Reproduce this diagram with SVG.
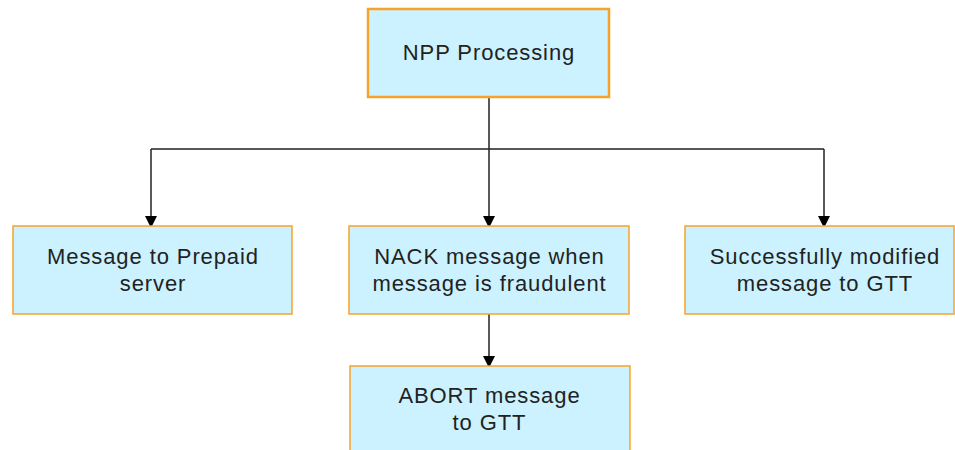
<svg xmlns="http://www.w3.org/2000/svg" width="955" height="450" viewBox="0 0 955 450">
<defs>
<marker id="arr" markerWidth="10" markerHeight="12" refX="9" refY="6" orient="auto" markerUnits="userSpaceOnUse">
<path d="M0,0 L12,6 L0,12 Z" fill="#000"/>
</marker>
<style>
.box{fill:#CCF2FF;stroke:#F7A32A;stroke-width:1.5}
.top{stroke-width:2.5}
.t{font-family:"Liberation Sans",Arial,sans-serif;font-size:22px;letter-spacing:0.9px;fill:#222;text-anchor:middle}
.c{fill:none;stroke:#222;stroke-width:1.5}
</style>
</defs>
<rect width="955" height="450" fill="#fff"/>
<g id="connectors">
<path class="c" d="M489,97 V149 M151,149 H824"/>
<path class="c" d="M151,149 V225" marker-end="url(#arr)"/>
<path class="c" d="M489,149 V225" marker-end="url(#arr)"/>
<path class="c" d="M824,149 V225" marker-end="url(#arr)"/>
<path class="c" d="M489,314 V365" marker-end="url(#arr)"/>
</g>
<g id="npp">
<rect class="box top" x="368" y="9" width="241" height="88"/>
<text class="t" x="489" y="60">NPP Processing</text>
</g>
<g id="prepaid">
<rect class="box" x="13" y="226" width="279" height="88"/>
<text class="t" x="153" y="264">Message to Prepaid</text>
<text class="t" x="153" y="291">server</text>
</g>
<g id="nack">
<rect class="box" x="349" y="226" width="280" height="88"/>
<text class="t" x="489.5" y="264">NACK message when</text>
<text class="t" x="489.5" y="291">message is fraudulent</text>
</g>
<g id="success">
<rect class="box" x="685" y="226" width="269" height="88"/>
<text class="t" x="825" y="264">Successfully modified</text>
<text class="t" x="825" y="291">message to GTT</text>
</g>
<g id="abort">
<rect class="box" x="350" y="366" width="280" height="100"/>
<text class="t" x="489.5" y="403">ABORT message</text>
<text class="t" x="489.5" y="430">to GTT</text>
</g>
</svg>
